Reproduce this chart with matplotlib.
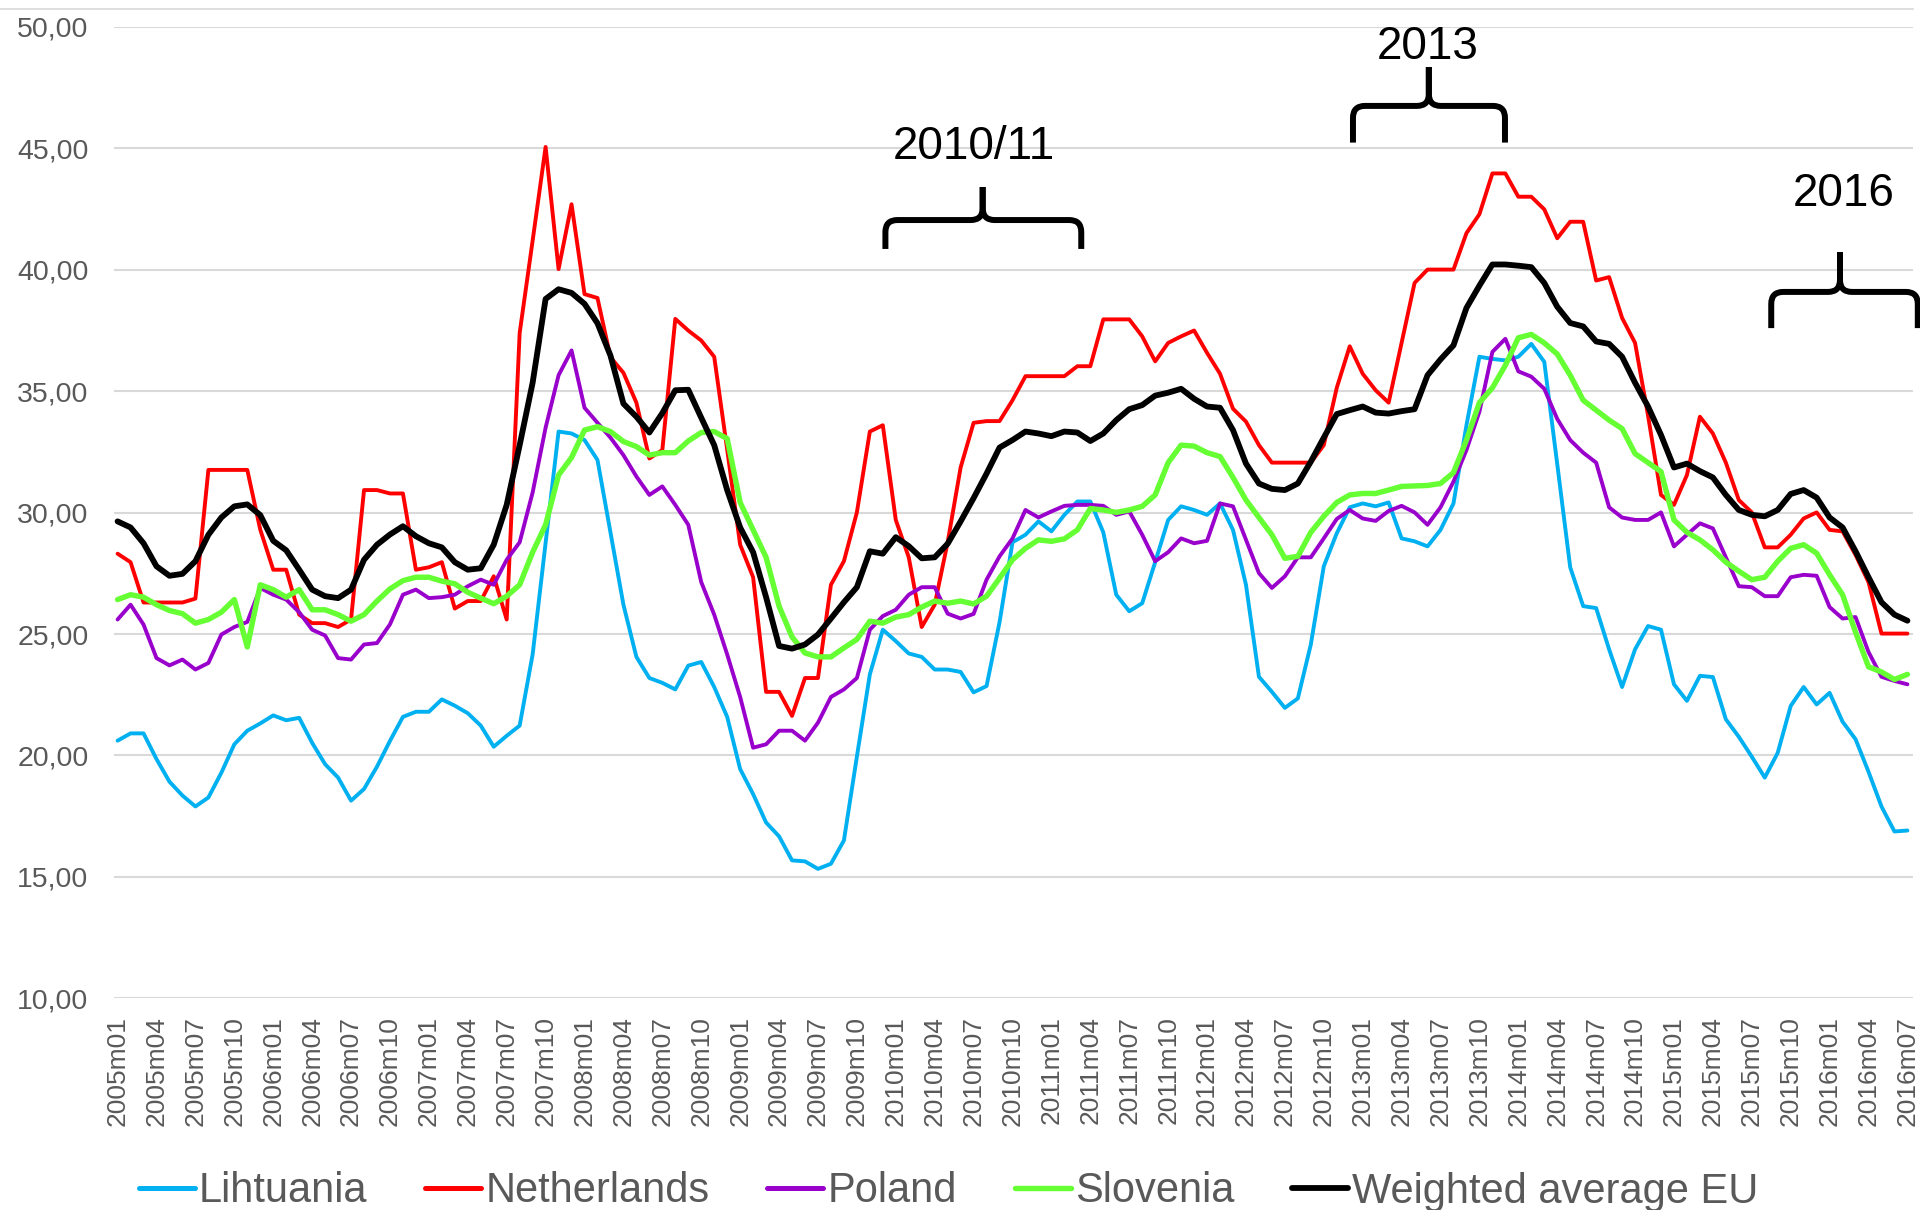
import matplotlib
matplotlib.use("Agg")
import matplotlib.pyplot as plt
from matplotlib.path import Path
from matplotlib.patches import PathPatch
from matplotlib.lines import Line2D
from matplotlib.ticker import FuncFormatter

plt.rcParams['font.family'] = ['Liberation Sans', 'DejaVu Sans']

# ---- categories ----
years = list(range(2005, 2017))
months = [f"{y}m{m:02d}" for y in years for m in range(1, 13)][:139]
tick_labels = months[::3]

# ---- series ----
lithuania = [
    20.61, 20.91, 20.91, 19.85, 18.92, 18.35, 17.90, 18.27, 19.29, 20.46,
    21.02, 21.32, 21.65, 21.45, 21.55, 20.52, 19.64, 19.09, 18.14, 18.62,
    19.54, 20.60, 21.59, 21.80, 21.80, 22.31, 22.05, 21.74, 21.23, 20.36,
    20.81, 21.23, 24.16, 28.75, 33.34, 33.26, 32.99, 32.17, 29.19, 26.21,
    24.06, 23.19, 22.99, 22.72, 23.70, 23.85, 22.82, 21.59, 19.44, 18.41,
    17.24, 16.67, 15.68, 15.64, 15.33, 15.54, 16.50, 19.95, 23.34, 25.18,
    24.71, 24.20, 24.06, 23.54, 23.54, 23.44, 22.60, 22.86, 25.49, 28.78,
    29.09, 29.64, 29.23, 29.91, 30.46, 30.46, 29.19, 26.62, 25.94, 26.27,
    27.96, 29.70, 30.26, 30.11, 29.91, 30.38, 29.29, 27.03, 23.24, 22.62,
    21.96, 22.35, 24.57, 27.79, 29.15, 30.22, 30.38, 30.26, 30.42, 28.94,
    28.82, 28.61, 29.29, 30.38, 33.60, 36.42, 36.33, 36.27, 36.42, 36.95,
    36.21, 32.00, 27.75, 26.15, 26.07, 24.37, 22.82, 24.37, 25.33, 25.18,
    22.93, 22.25, 23.28, 23.23, 21.49, 20.77, 19.95, 19.09, 20.11, 22.04,
    22.82, 22.10, 22.58, 21.39, 20.67, 19.33, 17.90, 16.87, 16.91,
]
netherlands = [
    28.31, 27.96, 26.30, 26.30, 26.30, 26.30, 26.46, 31.76, 31.76, 31.76,
    31.76, 29.30, 27.65, 27.65, 25.80, 25.45, 25.45, 25.29, 25.60, 30.93,
    30.93, 30.79, 30.79, 27.65, 27.75, 27.96, 26.05, 26.36, 26.36, 27.38,
    25.60, 37.40, 41.20, 45.06, 40.03, 42.70, 39.00, 38.84, 36.40, 35.76,
    34.53, 32.23, 32.58, 37.98, 37.50, 37.09, 36.42, 32.60, 28.68, 27.34,
    22.62, 22.62, 21.63, 23.19, 23.19, 27.03, 28.00, 30.01, 33.34, 33.60,
    29.70, 28.16, 25.29, 26.21, 28.78, 31.86, 33.70, 33.77, 33.77, 34.63,
    35.62, 35.62, 35.62, 35.62, 36.03, 36.03, 37.96, 37.96, 37.96, 37.26,
    36.23, 36.99, 37.26, 37.50, 36.58, 35.72, 34.28, 33.75, 32.78, 32.06,
    32.06, 32.06, 32.06, 32.78, 35.14, 36.85, 35.72, 35.04, 34.53, 36.99,
    39.46, 40.01, 40.01, 40.01, 41.51, 42.29, 43.97, 43.97, 43.01, 43.01,
    42.49, 41.30, 41.98, 41.98, 39.56, 39.70, 38.02, 36.99, 34.00, 30.73,
    30.32, 31.55, 33.95, 33.26, 32.06, 30.52, 30.01, 28.57, 28.57, 29.09,
    29.76, 30.01, 29.29, 29.23, 28.26, 27.14, 25.02, 25.02, 25.02,
]
poland = [
    25.60, 26.21, 25.39, 24.01, 23.71, 23.95, 23.54, 23.81, 24.98, 25.29,
    25.50, 26.90, 26.62, 26.42, 25.90, 25.18, 24.94, 24.01, 23.95, 24.57,
    24.63, 25.40, 26.62, 26.83, 26.48, 26.52, 26.62, 26.97, 27.24, 27.03,
    28.06, 28.78, 30.83, 33.50, 35.66, 36.68, 34.32, 33.70, 33.09, 32.37,
    31.49, 30.73, 31.08, 30.32, 29.50, 27.14, 25.80, 24.16, 22.41, 20.32,
    20.46, 21.02, 21.02, 20.61, 21.35, 22.41, 22.72, 23.19, 25.18, 25.74,
    26.00, 26.62, 26.93, 26.93, 25.84, 25.64, 25.83, 27.24, 28.20, 28.94,
    30.11, 29.80, 30.05, 30.28, 30.32, 30.32, 30.28, 29.91, 30.05, 29.09,
    28.00, 28.37, 28.94, 28.74, 28.84, 30.38, 30.26, 28.88, 27.51, 26.90,
    27.38, 28.16, 28.16, 28.94, 29.74, 30.11, 29.76, 29.66, 30.07, 30.28,
    30.01, 29.50, 30.22, 31.28, 32.58, 34.16, 36.62, 37.16, 35.82, 35.60,
    35.10, 33.86, 32.99, 32.47, 32.06, 30.22, 29.80, 29.70, 29.70, 30.01,
    28.61, 29.09, 29.56, 29.35, 28.16, 26.97, 26.93, 26.56, 26.56, 27.34,
    27.44, 27.40, 26.11, 25.64, 25.70, 24.26, 23.24, 23.07, 22.93,
]
slovenia = [
    26.42, 26.62, 26.52, 26.21, 25.97, 25.84, 25.45, 25.60, 25.90, 26.42,
    24.47, 27.03, 26.83, 26.52, 26.83, 26.00, 26.00, 25.80, 25.53, 25.80,
    26.36, 26.86, 27.20, 27.34, 27.34, 27.18, 27.07, 26.72, 26.48, 26.25,
    26.56, 27.03, 28.37, 29.50, 31.55, 32.27, 33.40, 33.54, 33.34, 32.93,
    32.72, 32.37, 32.47, 32.47, 32.95, 33.30, 33.34, 33.05, 30.42, 29.29,
    28.16, 26.15, 24.88, 24.22, 24.06, 24.06, 24.43, 24.78, 25.53, 25.45,
    25.70, 25.80, 26.11, 26.36, 26.27, 26.36, 26.24, 26.56, 27.30, 28.06,
    28.53, 28.88, 28.82, 28.92, 29.29, 30.17, 30.11, 30.01, 30.11, 30.26,
    30.73, 32.06, 32.78, 32.74, 32.47, 32.31, 31.45, 30.52, 29.80, 29.09,
    28.12, 28.20, 29.19, 29.85, 30.42, 30.73, 30.79, 30.79, 30.93, 31.08,
    31.10, 31.12, 31.20, 31.65, 32.99, 34.53, 35.14, 36.07, 37.20, 37.34,
    36.99, 36.53, 35.66, 34.63, 34.22, 33.81, 33.46, 32.43, 32.06, 31.69,
    29.70, 29.19, 28.88, 28.47, 27.96, 27.59, 27.24, 27.34, 28.00, 28.53,
    28.68, 28.33, 27.44, 26.62, 25.08, 23.65, 23.44, 23.13, 23.34,
]
eu_avg = [
    29.64, 29.39, 28.74, 27.79, 27.40, 27.48, 28.00, 29.09, 29.80, 30.26,
    30.34, 29.90, 28.84, 28.45, 27.65, 26.83, 26.56, 26.48, 26.83, 28.06,
    28.68, 29.10, 29.44, 29.03, 28.74, 28.57, 27.96, 27.65, 27.71, 28.68,
    30.32, 32.78, 35.35, 38.80, 39.20, 39.05, 38.60, 37.80, 36.47, 34.49,
    33.95, 33.30, 34.10, 35.04, 35.06, 33.91, 32.78, 30.93, 29.39, 28.37,
    26.52, 24.51, 24.40, 24.57, 24.98, 25.64, 26.31, 26.93, 28.41, 28.31,
    28.99, 28.62, 28.12, 28.16, 28.72, 29.64, 30.60, 31.61, 32.68, 32.99,
    33.34, 33.26, 33.15, 33.34, 33.30, 32.95, 33.26, 33.81, 34.26, 34.43,
    34.82, 34.94, 35.10, 34.69, 34.37, 34.32, 33.40, 32.02, 31.20, 30.98,
    30.93, 31.20, 32.10, 33.09, 34.06, 34.22, 34.37, 34.12, 34.08, 34.18,
    34.26, 35.66, 36.31, 36.89, 38.43, 39.35, 40.22, 40.22, 40.17, 40.11,
    39.46, 38.48, 37.81, 37.67, 37.05, 36.95, 36.42, 35.35, 34.37, 33.20,
    31.86, 32.02, 31.71, 31.45, 30.73, 30.11, 29.91, 29.85, 30.11, 30.77,
    30.93, 30.62, 29.80, 29.39, 28.41, 27.34, 26.31, 25.80, 25.55,
]

series_names = ["Lihtuania", "Netherlands", "Poland", "Slovenia", "Weighted average EU"]
series_values = [lithuania, netherlands, poland, slovenia, eu_avg]
series_colors = ["#00B0F0", "#FF0000", "#9900CC", "#66FF33", "#000000"]
series_widths = [2.8, 2.8, 2.8, 3.9, 4.2]

# annotations: (left, right, centre, leg bottom, bar, spike top, text x, text y)
brace_labels = ["2010/11", "2013", "2016"]
brace_geom = [
    (59.2, 74.3, 66.7, 40.86, 42.05, 43.41, 66.0, 44.55),
    (95.25, 106.97, 101.1, 45.24, 46.75, 48.35, 101.0, 48.67),
    (127.5, 138.8, 132.8, 37.6, 39.09, 40.73, 133.07, 42.63),
]

W, H = 1920, 1210
fig = plt.figure(figsize=(W / 100, H / 100), dpi=100)
ax_l, ax_r, ax_t, ax_b = 113.5, 1913.0, 27.0, 998.3
ax = fig.add_axes([ax_l / W, 1 - ax_b / H, (ax_r - ax_l) / W, (ax_b - ax_t) / H])

x = list(range(len(months)))
handles = []
for name, vals, col, lw in zip(series_names, series_values, series_colors, series_widths):
    ax.plot(x, vals, color=col, lw=lw, solid_joinstyle='round',
            solid_capstyle='round', label=name)
    handles.append(Line2D([], [], color=col, lw=max(lw, 3.6), solid_capstyle='round'))

x0, x1 = -0.316, 138.43
ax.set_xlim(x0, x1)
ax.set_ylim(10, 50)

ax.set_yticks(range(10, 51, 5))
ax.yaxis.set_major_formatter(FuncFormatter(lambda v, p: f"{v:.2f}".replace('.', ',')))
ax.set_xticks(x[::3])
ax.set_xticklabels(tick_labels, rotation=90)
ax.tick_params(axis='x', length=0, pad=13, labelsize=19, labelcolor='#595959')
ax.tick_params(axis='y', length=0, pad=18, labelsize=20.5, labelcolor='#595959')
ax.yaxis.grid(True, color='#d9d9d9', lw=1.5)
ax.set_axisbelow(True)
for s in ax.spines.values():
    s.set_visible(False)

# braces
ppx = (ax_r - ax_l) / (x1 - x0)
ppy = (ax_b - ax_t) / 40.0
r = 12.0
rx, ry = r / ppx, r / ppy
for lab, (xl, xr, xc, yb, ybar, ytop, tx, ty) in zip(brace_labels, brace_geom):
    for xe, sgn in ((xl, 1), (xr, -1)):
        verts = [(xe, yb), (xe, ybar - ry), (xe, ybar), (xe + sgn * rx, ybar),
                 (xc - sgn * rx, ybar), (xc, ybar), (xc, ybar + ry), (xc, ytop)]
        codes = [Path.MOVETO, Path.LINETO, Path.CURVE3, Path.CURVE3,
                 Path.LINETO, Path.CURVE3, Path.CURVE3, Path.LINETO]
        ax.add_patch(PathPatch(Path(verts, codes), fill=False, lw=4.3, color='black',
                               capstyle='butt', joinstyle='round', clip_on=False))
    ax.text(tx, ty, lab, ha='center', va='baseline', fontsize=33, color='black')

# thin border line at top
fig.add_artist(Line2D([0, ax_r / W], [1 - 8.7 / H] * 2, color='#d9d9d9', lw=1.2,
                      transform=fig.transFigure))

fig.legend(handles, series_names, loc='center left',
           bbox_to_anchor=(139 / W, 1 - 1191.5 / H), ncol=5, frameon=False,
           fontsize=30, handlelength=1.34, handletextpad=0.1, columnspacing=1.39,
           borderpad=0, borderaxespad=0, labelcolor='#595959')

fig.savefig("out.png", dpi=100)
